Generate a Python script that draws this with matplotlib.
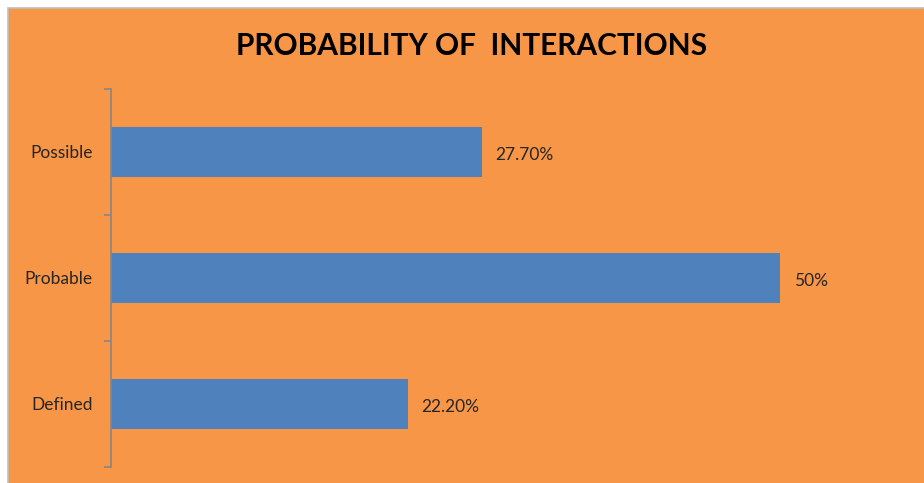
import matplotlib
matplotlib.use("Agg")
import matplotlib.pyplot as plt
from matplotlib.patches import Rectangle
from matplotlib.ticker import FixedLocator

categories = ["Defined", "Probable", "Possible"]
values = [22.2, 50.0, 27.7]
value_labels = ["22.20%", "50%", "27.70%"]

orange = "#F79646"
blue = "#4F81BD"
text_color = "#262626"

plt.rcParams["font.family"] = ["Lato", "DejaVu Sans"]

fig = plt.figure(figsize=(9.24, 4.83), dpi=100, facecolor="white")

# chart area background with a thin grey frame (runs off the right and bottom edges)
fig.patches.append(Rectangle((8 / 924, -0.05), 1.1, 1.05 - 8 / 483, transform=fig.transFigure,
                             facecolor=orange, edgecolor="#BFBFBF", linewidth=1.2, zorder=-5))

ax = fig.add_axes([111 / 924, 16 / 483, 803 / 924, 378 / 483])
ax.set_facecolor("none")

pos = range(len(categories))
ax.barh(pos, values, height=0.4, color=blue, edgecolor="none")

for y, v, lab in zip(pos, values, value_labels):
    ax.text(v + 1.0, y - 0.02, lab, va="center", ha="left", fontsize=12.5, color=text_color)

ax.set_xlim(0, 60)
ax.set_ylim(-0.5, 2.5)
ax.set_xticks([])
ax.set_yticks(list(pos))
ax.set_yticklabels(categories, fontsize=12.5, color=text_color)
ax.yaxis.set_minor_locator(FixedLocator([-0.5, 0.5, 1.5, 2.5]))
ax.tick_params(axis="y", which="major", length=0, pad=13)
ax.tick_params(axis="y", which="minor", length=5, color="#868686", width=1.2)

for s in ["top", "right", "bottom"]:
    ax.spines[s].set_visible(False)
ax.spines["left"].set_color("#868686")
ax.spines["left"].set_linewidth(1.2)

fig.text(472 / 924, 1 - 46 / 483, "PROBABILITY OF  INTERACTIONS", ha="center", va="center",
         fontsize=21.5, fontweight="bold", color="black")

fig.savefig("out.png", dpi=100, facecolor=fig.get_facecolor())
